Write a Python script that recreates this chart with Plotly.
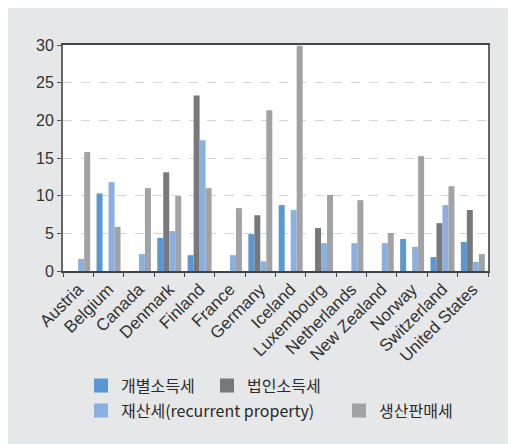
import plotly.graph_objects as go

countries = ["Austria", "Belgium", "Canada", "Denmark", "Finland", "France", "Germany",
             "Iceland", "Luxembourg", "Netherlands", "New Zealand", "Norway",
             "Switzerland", "United States"]

series_names = ["개별소득세", "법인소득세", "재산세(recurrent property)", "생산판매세"]

personal_income = [0, 10.3, 0, 4.4, 2.1, 0, 4.9, 8.75, 0, 0, 0, 4.25, 1.85, 3.85]
corporate_income = [0, 0, 0, 13.1, 23.3, 0, 7.4, 0, 5.7, 0, 0, 0, 6.35, 8.1]
property_tax = [1.6, 11.8, 2.25, 5.3, 17.35, 2.1, 1.3, 8.1, 3.7, 3.7, 3.7, 3.2, 8.75, 1.2]
sales_tax = [15.8, 5.85, 11.0, 9.95, 11.0, 8.35, 21.35, 29.9, 10.1, 9.4, 5.05, 15.25, 11.25, 2.25]

values = [personal_income, corporate_income, property_tax, sales_tax]
colors = ["#5b98d1", "#77787c", "#8bb0df", "#a1a2a5"]
legend_ids = ["legend", "legend2", "legend3", "legend4"]

# figure is placed by the page at (8, 8)
W, H = 508, 436
L, R, T, B = 55, 28, 37, 173
PW, PH = W - L - R, H - T - B


def px_x(px):
    return (px - L) / PW


def px_y(py):
    return (H - B - py) / PH


fig = go.Figure()
for name, vals, col, lg in zip(series_names, values, colors, legend_ids):
    fig.add_trace(go.Bar(x=countries, y=vals, name=name, marker_color=col,
                         marker_line_width=0, legend=lg, legendgroup=name,
                         showlegend=False))
    # legend entry with a slightly larger square swatch
    fig.add_trace(go.Scatter(x=[None], y=[None], mode="markers", name=name,
                             marker=dict(symbol="square", size=14, color=col, line_width=0),
                             legend=lg, legendgroup=name, showlegend=True,
                             hoverinfo="skip"))

leg_font = dict(family="Noto Sans CJK KR, sans-serif", size=16, color="#2a2a2a")
leg_pos = {"legend": (73, 360.5), "legend2": (199, 360.5),
           "legend3": (73, 385.7), "legend4": (331, 385.7)}
leg_layout = {}
for lg, (lx, ly) in leg_pos.items():
    leg_layout[lg] = dict(orientation="h", x=px_x(lx), xanchor="left", y=px_y(ly), yanchor="top",
                          font=leg_font, itemwidth=30, bgcolor="rgba(0,0,0,0)",
                          borderwidth=0)

fig.update_layout(
    width=W, height=H,
    margin=dict(l=L, r=R, t=T, b=B, pad=0, autoexpand=False),
    paper_bgcolor="#e6e7e9",
    plot_bgcolor="white",
    barmode="group",
    bargap=0.21,
    bargroupgap=0,
    font=dict(family="Liberation Sans, Arial, sans-serif", color="#333333"),
    showlegend=True,
    xaxis=dict(
        tickangle=-45, tickfont=dict(size=17), showline=True, linecolor="#444444",
        linewidth=1.5, mirror=True, ticks="outside", tickson="boundaries", ticklen=4,
        tickcolor="#444444", showgrid=False, fixedrange=True, automargin=False,
    ),
    yaxis=dict(
        range=[0, 30], dtick=5, tickfont=dict(size=16), showline=True,
        linecolor="#666666", linewidth=2, mirror=True, ticks="outside", ticklen=4,
        tickcolor="#555555", showgrid=True, gridcolor="#d4d4d4", griddash="dash",
        gridwidth=1, zeroline=False, fixedrange=True, automargin=False,
    ),
    **leg_layout,
)

fig.write_html("out.html")
